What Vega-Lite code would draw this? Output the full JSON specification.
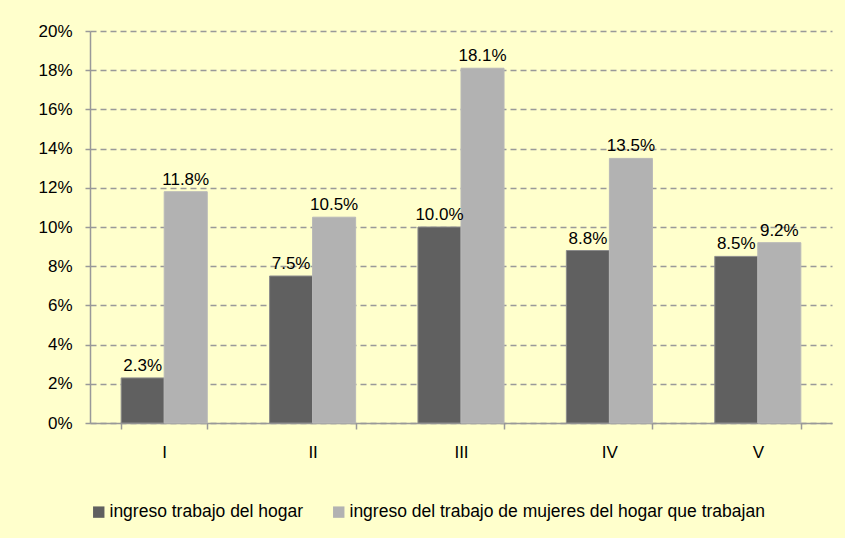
{
  "$schema": "https://vega.github.io/schema/vega-lite/v6.json",
  "width": 742,
  "height": 392,
  "autosize": {"type": "none"},
  "padding": {"left": 90, "top": 31, "right": 13, "bottom": 115},
  "background": "#FFFFCC",
  "config": {
    "view": {"stroke": null},
    "font": "Liberation Sans",
    "axis": {"labelColor": "#000000", "labelFont": "Liberation Sans"}
  },
  "data": {
    "values": [
      {"quintil": "I", "serie": "ingreso trabajo  del hogar", "valor": 0.023},
      {"quintil": "I", "serie": "ingreso del trabajo de mujeres del hogar que trabajan", "valor": 0.118},
      {"quintil": "II", "serie": "ingreso trabajo  del hogar", "valor": 0.075},
      {"quintil": "II", "serie": "ingreso del trabajo de mujeres del hogar que trabajan", "valor": 0.105},
      {"quintil": "III", "serie": "ingreso trabajo  del hogar", "valor": 0.100},
      {"quintil": "III", "serie": "ingreso del trabajo de mujeres del hogar que trabajan", "valor": 0.181},
      {"quintil": "IV", "serie": "ingreso trabajo  del hogar", "valor": 0.088},
      {"quintil": "IV", "serie": "ingreso del trabajo de mujeres del hogar que trabajan", "valor": 0.135},
      {"quintil": "V", "serie": "ingreso trabajo  del hogar", "valor": 0.085},
      {"quintil": "V", "serie": "ingreso del trabajo de mujeres del hogar que trabajan", "valor": 0.092}
    ]
  },
  "encoding": {
    "x": {
      "field": "quintil",
      "type": "nominal",
      "sort": ["I", "II", "III", "IV", "V"],
      "scale": {"paddingInner": 0.42, "paddingOuter": 0.21},
      "axis": {
        "title": null,
        "labelAngle": 0,
        "labelFontSize": 17,
        "labelPadding": 15,
        "tickBand": "extent",
        "tickSize": 6,
        "tickColor": "#999999",
        "tickWidth": 1.5,
        "domainColor": "#999999",
        "domainWidth": 1.5,
        "grid": false
      }
    },
    "xOffset": {
      "field": "serie",
      "type": "nominal",
      "sort": ["ingreso trabajo  del hogar", "ingreso del trabajo de mujeres del hogar que trabajan"],
      "scale": {"paddingInner": 0, "paddingOuter": 0}
    },
    "y": {
      "field": "valor",
      "type": "quantitative",
      "scale": {"domain": [0, 0.2], "nice": false},
      "axis": {
        "title": null,
        "format": ".0%",
        "values": [0, 0.02, 0.04, 0.06, 0.08, 0.1, 0.12, 0.14, 0.16, 0.18, 0.2],
        "labelFontSize": 17,
        "labelPadding": 13,
        "tickSize": 5,
        "tickColor": "#999999",
        "tickWidth": 1.5,
        "domainColor": "#999999",
        "domainWidth": 1.5,
        "grid": true,
        "gridColor": "#999999",
        "gridWidth": 1.5,
        "gridDash": [6, 4]
      }
    }
  },
  "layer": [
    {
      "mark": {"type": "bar", "strokeWidth": 1},
      "encoding": {
        "color": {
          "field": "serie",
          "type": "nominal",
          "sort": ["ingreso trabajo  del hogar", "ingreso del trabajo de mujeres del hogar que trabajan"],
          "scale": {
            "domain": ["ingreso trabajo  del hogar", "ingreso del trabajo de mujeres del hogar que trabajan"],
            "range": ["#606060", "#B2B2B2"]
          },
          "legend": {
            "title": null,
            "orient": "none",
            "legendX": 0,
            "legendY": 472,
            "direction": "horizontal",
            "symbolType": "square",
            "symbolSize": 130,
            "symbolStrokeWidth": 0,
            "labelFontSize": 17.5,
            "labelColor": "#000000",
            "labelLimit": 700,
            "labelOffset": 2,
            "columnPadding": 22
          }
        },
        "stroke": {
          "field": "serie",
          "type": "nominal",
          "scale": {
            "domain": ["ingreso trabajo  del hogar", "ingreso del trabajo de mujeres del hogar que trabajan"],
            "range": ["#8c8c8c", "#b8b8b8"]
          },
          "legend": null
        }
      }
    },
    {
      "mark": {"type": "text", "baseline": "bottom", "dy": -3, "fontSize": 17, "color": "#000000"},
      "encoding": {
        "text": {"field": "valor", "type": "quantitative", "format": ".1%"}
      }
    }
  ]
}
